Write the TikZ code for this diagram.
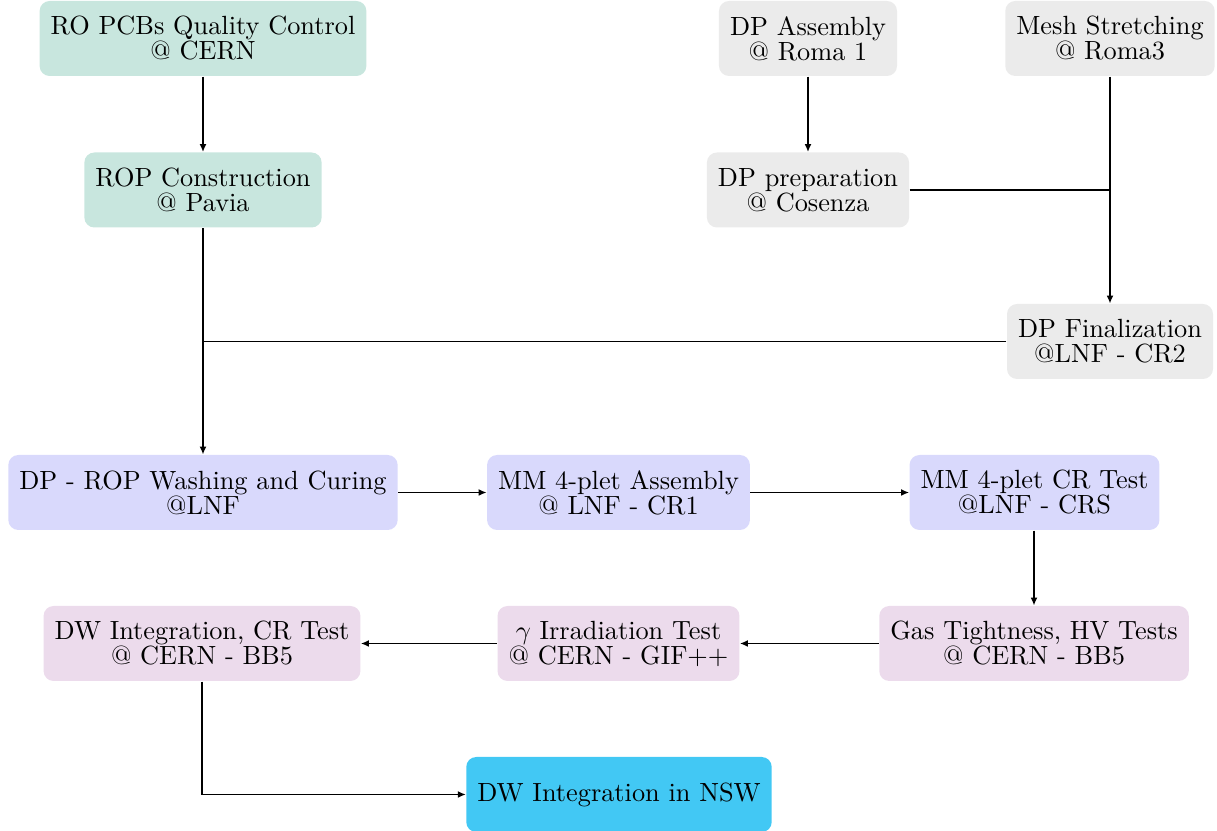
\documentclass[tikz,border=0pt]{standalone}
\usetikzlibrary{arrows.meta}
\definecolor{cteal}{RGB}{200,230,222}
\definecolor{cgray}{RGB}{235,235,235}
\definecolor{clav}{RGB}{217,217,252}
\definecolor{cpink}{RGB}{236,219,236}
\definecolor{ccyan}{RGB}{66,200,244}
\begin{document}
\begin{tikzpicture}[x=0.38pt,y=-0.38pt,
  box/.style={rounded corners=3.8pt, inner xsep=4.2pt, minimum height=28.5pt,
    align=center, font=\fontsize{10}{9.5}\selectfont},
  tealbox/.style={box, fill=cteal},
  graybox/.style={box, fill=cgray},
  lavbox/.style={box, fill=clav},
  pinkbox/.style={box, fill=cpink},
  cyanbox/.style={box, fill=ccyan},
  conn/.style={line width=0.5pt},
  arr/.style={conn, -{Latex[length=3pt,width=2.6pt]}}]
\useasboundingbox (0,0) rectangle (1217,831);
\node[tealbox] (qc) at (203,38.5) {RO PCBs Quality Control\\@ CERN};
\node[tealbox] (rop) at (203,190) {ROP Construction\\@ Pavia};
\node[graybox] (dpa) at (808,38.5) {DP Assembly\\@ Roma 1};
\node[graybox] (mesh) at (1110,38.5) {Mesh Stretching\\@ Roma3};
\node[graybox] (dpp) at (808,190) {DP preparation\\@ Cosenza};
\node[graybox] (dpf) at (1110,341.5) {DP Finalization\\@LNF - CR2};
\node[lavbox] (wash) at (203,492.5) {DP - ROP Washing and Curing\\@LNF};
\node[lavbox] (mma) at (618.5,492.5) {MM 4-plet Assembly\\@ LNF - CR1};
\node[lavbox] (mmt) at (1034.5,492.5) {MM 4-plet CR Test\\@LNF - CRS};
\node[pinkbox] (gas) at (1034,643.5) {Gas Tightness, HV Tests\\@ CERN - BB5};
\node[pinkbox] (gam) at (618.5,643.5) {$\gamma$ Irradiation Test\\@ CERN - GIF++};
\node[pinkbox] (dwi) at (202,643.5) {DW Integration, CR Test\\@ CERN - BB5};
\node[cyanbox] (nsw) at (619,794.5) {DW Integration in NSW};
\coordinate (j1) at (1110,190);
\coordinate (j2) at (203,341.5);
\draw[arr] (qc) -- (rop);
\draw[arr] (dpa) -- (dpp);
\draw[arr] (mesh) -- (dpf);
\draw[conn] (dpp.east) -- (j1);
\draw[conn] (dpf.west) -- (j2);
\draw[arr] (rop) -- (wash);
\draw[arr] (wash) -- (mma);
\draw[arr] (mma) -- (mmt);
\draw[arr] (mmt.south -| gas.north) -- (gas);
\draw[arr] (gas) -- (gam);
\draw[arr] (gam) -- (dwi);
\draw[arr] (dwi.south) |- (nsw.west);
\end{tikzpicture}
\end{document}
